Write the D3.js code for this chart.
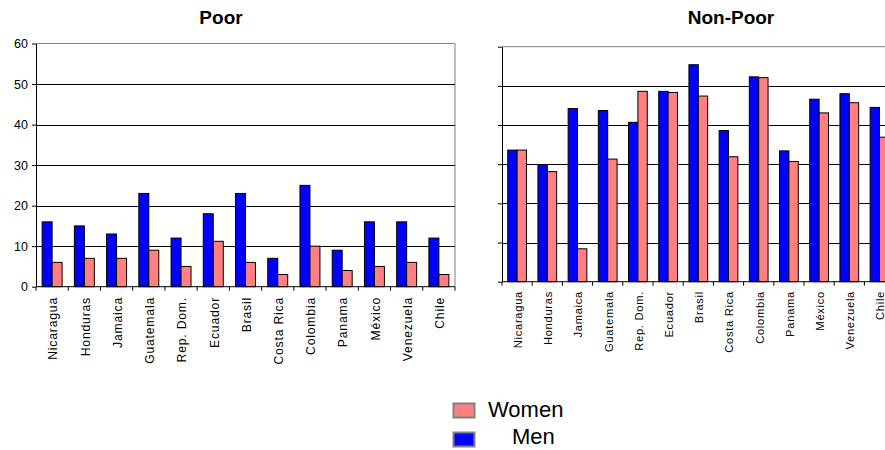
<!DOCTYPE html>
<html>
<head>
<meta charset="utf-8">
<script src="https://cdn.jsdelivr.net/npm/d3@7"></script>
<style>
  html, body { margin: 0; padding: 0; background: #fff; }
  svg { display: block; font-family: "Liberation Sans", Arial, sans-serif; }
</style>
</head>
<body>
<svg id="chart" width="885" height="450"></svg>
<script>
const categories = ["Nicaragua", "Honduras", "Jamaica", "Guatemala", "Rep. Dom.", "Ecuador", "Brasil", "Costa Rica", "Colombia", "Panama", "México", "Venezuela", "Chile"];
const poorMen    = [16, 15, 13, 23, 12, 18, 23, 7, 25, 9, 16, 16, 12];
const poorWomen  = [6, 7, 7, 9, 5, 11.2, 6, 3, 10, 4, 5, 6, 3];
const nonPoorMen   = [33.6, 29.9, 44.2, 43.7, 40.7, 48.6, 55.4, 38.6, 52.3, 33.4, 46.6, 48.0, 44.5];
const nonPoorWomen = [33.6, 28.1, 8.4, 31.3, 48.6, 48.3, 47.4, 31.9, 52.1, 30.7, 43.1, 45.7, 36.9];
const yTicks = [0, 10, 20, 30, 40, 50, 60];
const seriesNames = ["Men", "Women"];
const seriesColors = { Men: "#0000FF", Women: "#FF8080" };

const svg = d3.select("#chart");

function drawPanel(opt) {
  const g = svg.append("g");
  const x = d3.scaleBand().domain(categories).range([opt.x0, opt.x1]).padding(0);
  const y = d3.scaleLinear().domain([0, 60]).range([opt.yb, opt.yt]);
  const sub = d3.scaleBand().domain(seriesNames).range([0, x.bandwidth()])
    .paddingInner(0).paddingOuter(0.613);

  // plot border (gray) top & right
  g.append("line").attr("x1", opt.x0).attr("x2", opt.x1)
    .attr("y1", y(60)).attr("y2", y(60)).attr("stroke", "#808080").attr("stroke-width", 1);
  g.append("line").attr("x1", opt.x1).attr("x2", opt.x1)
    .attr("y1", y(60)).attr("y2", y(0)).attr("stroke", "#808080").attr("stroke-width", 1);

  // gridlines
  g.selectAll(".grid").data(yTicks.filter(t => t > 0 && t < 60)).enter().append("line")
    .attr("x1", opt.x0).attr("x2", opt.x1)
    .attr("y1", d => Math.round(y(d)) + 0.5).attr("y2", d => Math.round(y(d)) + 0.5)
    .attr("stroke", "#000").attr("stroke-width", 1);

  // bars
  const rows = categories.map((c, i) => ({ c, Men: opt.men[i], Women: opt.women[i] }));
  const grp = g.selectAll(".cat").data(rows).enter().append("g")
    .attr("transform", d => `translate(${x(d.c)},0)`);
  grp.selectAll("rect").data(d => seriesNames.map(s => ({ s, v: d[s] }))).enter().append("rect")
    .attr("x", d => sub(d.s))
    .attr("width", sub.bandwidth())
    .attr("y", d => y(d.v))
    .attr("height", d => y(0) - y(d.v))
    .attr("fill", d => seriesColors[d.s])
    .attr("stroke", "#000").attr("stroke-width", 1);

  // y axis
  const yAxis = d3.axisLeft(y).tickValues(yTicks).tickSize(4).tickSizeOuter(0)
    .tickFormat(opt.yLabels ? d3.format("d") : () => "");
  const ya = g.append("g").attr("transform", `translate(${opt.x0},0)`).call(yAxis);
  ya.select(".domain").attr("stroke", "#000");
  ya.selectAll(".tick line").attr("stroke", "#000");
  ya.selectAll("text").attr("font-size", "12.5px").attr("fill", "#000")
    .attr("font-family", "Liberation Sans, Arial, sans-serif").attr("x", -8);

  // x axis line and category boundary ticks
  g.append("line").attr("x1", opt.x0).attr("x2", opt.x1)
    .attr("y1", y(0)).attr("y2", y(0)).attr("stroke", "#000");
  const bounds = categories.map(c => x(c)).concat([opt.x1]);
  g.selectAll(".xt").data(bounds).enter().append("line")
    .attr("x1", d => d).attr("x2", d => d)
    .attr("y1", y(0)).attr("y2", y(0) + 4).attr("stroke", "#000");

  // category labels
  g.selectAll(".xl").data(categories).enter().append("text")
    .attr("transform", d => `translate(${x(d) + x.bandwidth() / 2 + 1},${opt.labelY}) rotate(-90)`)
    .attr("text-anchor", "end")
    .attr("dy", "0.35em")
    .attr("font-size", opt.labelSize + "px")
    .attr("letter-spacing", opt.labelSpacing + "px")
    .attr("fill", "#000")
    .text(d => d);

  // title
  g.append("text").attr("x", opt.titleX).attr("y", 24)
    .attr("text-anchor", "middle").attr("font-weight", "bold")
    .attr("font-size", "19px").attr("fill", "#000").text(opt.title);
}

drawPanel({ x0: 36, x1: 455, yt: 43.5, yb: 286.7, men: poorMen, women: poorWomen,
  yLabels: true, labelY: 297, labelSize: 12.2, labelSpacing: 0.8, title: "Poor", titleX: 221 });
drawPanel({ x0: 502, x1: 894.6, yt: 46.7, yb: 281.7, men: nonPoorMen, women: nonPoorWomen,
  yLabels: false, labelY: 291, labelSize: 11.2, labelSpacing: 0.7, title: "Non-Poor", titleX: 731 });

// legend
const legend = svg.append("g");
const legendItems = [
  { name: "Women", y: 403.5, tx: 488, ty: 416.5 },
  { name: "Men", y: 432.5, tx: 512, ty: 443.5 }
];
legend.selectAll("rect").data(legendItems).enter().append("rect")
  .attr("x", 453.5).attr("y", d => d.y).attr("width", 21).attr("height", 14)
  .attr("fill", d => seriesColors[d.name]).attr("stroke", "#808080").attr("stroke-width", 2);
legend.selectAll("text").data(legendItems).enter().append("text")
  .attr("x", d => d.tx).attr("y", d => d.ty)
  .attr("font-size", "22px").attr("fill", "#000").text(d => d.name);
</script>
</body>
</html>
